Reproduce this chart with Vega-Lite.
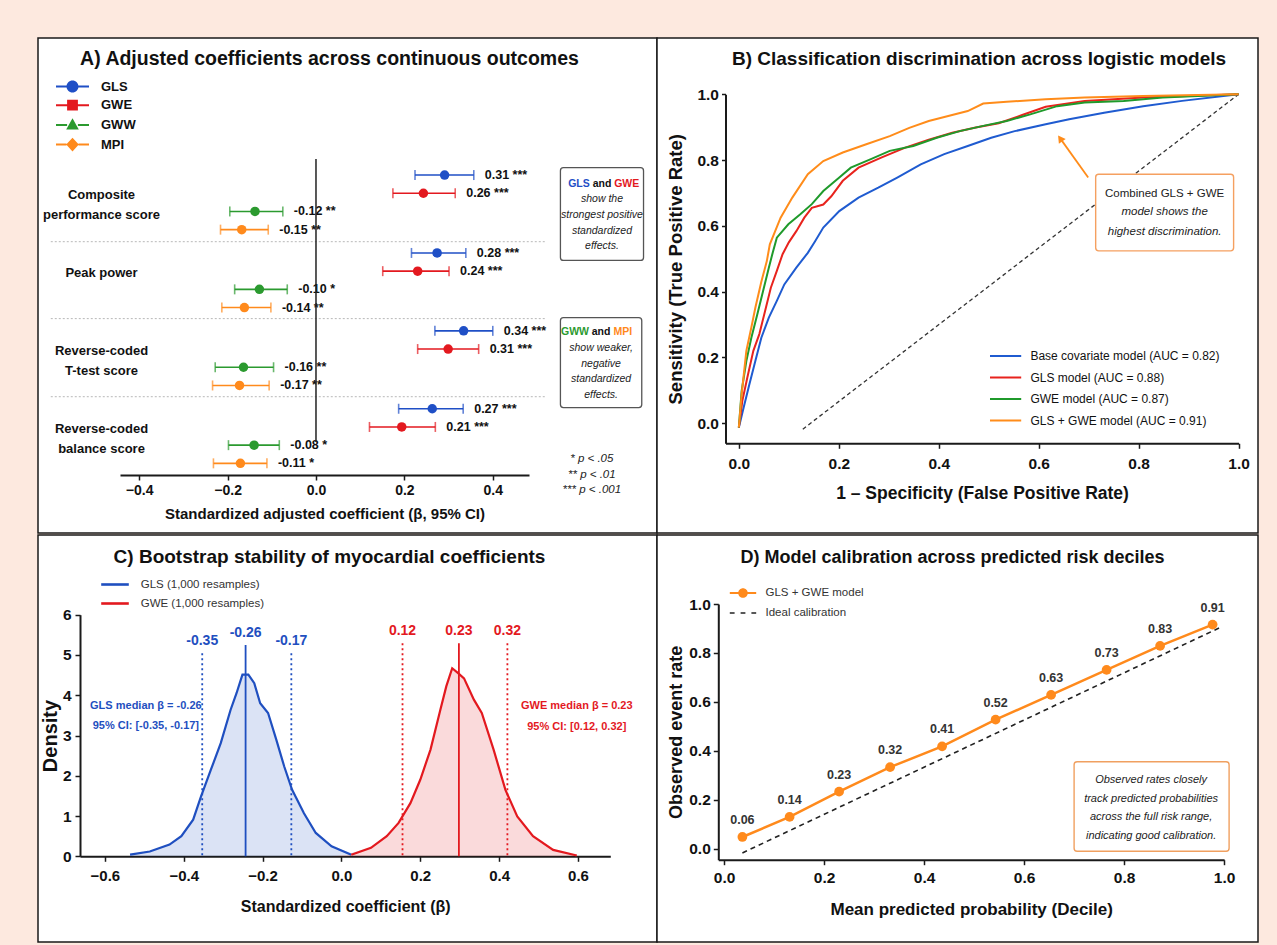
{
  "$schema": "https://vega.github.io/schema/vega-lite/v6.json",
  "background": "#fde9df",
  "padding": {"left": 37, "top": 37, "right": 20, "bottom": 6},
  "config": {
    "font": "Liberation Sans, Arial, sans-serif",
    "view": {"stroke": "#1a1a1a", "strokeWidth": 1.5, "fill": "white"},
    "concat": {"spacing": 0},
    "axis": {"grid": false, "domainColor": "#1a1a1a", "domainWidth": 2, "tickColor": "#1a1a1a", "tickWidth": 1.5, "tickSize": 5,
      "labelFont": "Liberation Sans, Arial, sans-serif", "labelFontWeight": "bold", "labelColor": "#111", "labelFlush": false, "labelOverlap": false,
      "titleFont": "Liberation Sans, Arial, sans-serif", "titleFontWeight": "bold", "titleColor": "#111"},
    "title": {"font": "Liberation Sans, Arial, sans-serif", "fontWeight": "bold", "fontSize": 19, "color": "#111", "anchor": "middle", "frame": "group"},
    "legend": {"labelFont": "Liberation Sans, Arial, sans-serif", "padding": 0, "title": null, "labelLimit": 400},
    "text": {"font": "Liberation Sans, Arial, sans-serif"}
  },
  "datasets": {
    "forest": [
      {"outcome": "Composite performance score", "model": "GLS", "beta": 0.291, "lo": 0.224, "hi": 0.357, "label": "0.31 ***"},
      {"outcome": "Composite performance score", "model": "GWE", "beta": 0.243, "lo": 0.174, "hi": 0.315, "label": "0.26 ***"},
      {"outcome": "Composite performance score", "model": "GWW", "beta": -0.138, "lo": -0.195, "hi": -0.075, "label": "-0.12 **"},
      {"outcome": "Composite performance score", "model": "MPI", "beta": -0.168, "lo": -0.216, "hi": -0.108, "label": "-0.15 **"},
      {"outcome": "Peak power", "model": "GLS", "beta": 0.274, "lo": 0.216, "hi": 0.339, "label": "0.28 ***"},
      {"outcome": "Peak power", "model": "GWE", "beta": 0.230, "lo": 0.151, "hi": 0.301, "label": "0.24 ***"},
      {"outcome": "Peak power", "model": "GWW", "beta": -0.128, "lo": -0.184, "hi": -0.065, "label": "-0.10 *"},
      {"outcome": "Peak power", "model": "MPI", "beta": -0.162, "lo": -0.213, "hi": -0.102, "label": "-0.14 **"},
      {"outcome": "Reverse-coded T-test score", "model": "GLS", "beta": 0.334, "lo": 0.269, "hi": 0.400, "label": "0.34 ***"},
      {"outcome": "Reverse-coded T-test score", "model": "GWE", "beta": 0.299, "lo": 0.230, "hi": 0.368, "label": "0.31 ***"},
      {"outcome": "Reverse-coded T-test score", "model": "GWW", "beta": -0.164, "lo": -0.228, "hi": -0.096, "label": "-0.16 **"},
      {"outcome": "Reverse-coded T-test score", "model": "MPI", "beta": -0.173, "lo": -0.234, "hi": -0.106, "label": "-0.17 **"},
      {"outcome": "Reverse-coded balance score", "model": "GLS", "beta": 0.263, "lo": 0.187, "hi": 0.333, "label": "0.27 ***"},
      {"outcome": "Reverse-coded balance score", "model": "GWE", "beta": 0.194, "lo": 0.121, "hi": 0.270, "label": "0.21 ***"},
      {"outcome": "Reverse-coded balance score", "model": "GWW", "beta": -0.140, "lo": -0.198, "hi": -0.083, "label": "-0.08 *"},
      {"outcome": "Reverse-coded balance score", "model": "MPI", "beta": -0.171, "lo": -0.232, "hi": -0.111, "label": "-0.11 *"}
    ],
    "aSep": [
      {"beta": -0.6, "beta2": 0.52, "ay": 4.02},
      {"beta": -0.6, "beta2": 0.52, "ay": 7.97},
      {"beta": -0.6, "beta2": 0.52, "ay": 11.98}
    ],
    "aZero": [{"beta": 0, "ay": -0.23, "ay2": 14.3}],
    "aBox": [
      {"beta": 0.553, "beta2": 0.741, "ay": 0.22, "ay2": 4.98},
      {"beta": 0.553, "beta2": 0.737, "ay": 7.92, "ay2": 12.54}
    ],
    "aWords": [
      {"t": "GLS", "model": "GLS", "beta": 0.595, "ay": 1.04},
      {"t": "GWE", "model": "GWE", "beta": 0.703, "ay": 1.04},
      {"t": "GWW", "model": "GWW", "beta": 0.586, "ay": 8.66},
      {"t": "MPI", "model": "MPI", "beta": 0.694, "ay": 8.66}
    ],
    "aAnd": [
      {"t": "and", "beta": 0.647, "ay": 1.04},
      {"t": "and", "beta": 0.645, "ay": 8.66}
    ],
    "aItal": [
      {"t": "show the", "beta": 0.647, "ay": 1.84},
      {"t": "strongest positive", "beta": 0.647, "ay": 2.67},
      {"t": "standardized", "beta": 0.647, "ay": 3.47},
      {"t": "effects.", "beta": 0.647, "ay": 4.24},
      {"t": "show weaker,", "beta": 0.645, "ay": 9.46},
      {"t": "negative", "beta": 0.645, "ay": 10.32},
      {"t": "standardized", "beta": 0.645, "ay": 11.09},
      {"t": "effects.", "beta": 0.645, "ay": 11.89}
    ],
    "aP": [
      {"t": "* p < .05", "beta": 0.624, "ay": 15.2},
      {"t": "** p < .01", "beta": 0.624, "ay": 16.0},
      {"t": "*** p < .001", "beta": 0.624, "ay": 16.79}
    ],
    "roc": [
      {"model": "Base covariate model (AUC = 0.82)", "fpr": 0, "tpr": -0.013},
      {"model": "Base covariate model (AUC = 0.82)", "fpr": 0.0095, "tpr": 0.047},
      {"model": "Base covariate model (AUC = 0.82)", "fpr": 0.021, "tpr": 0.118},
      {"model": "Base covariate model (AUC = 0.82)", "fpr": 0.033, "tpr": 0.189},
      {"model": "Base covariate model (AUC = 0.82)", "fpr": 0.045, "tpr": 0.26},
      {"model": "Base covariate model (AUC = 0.82)", "fpr": 0.06, "tpr": 0.321},
      {"model": "Base covariate model (AUC = 0.82)", "fpr": 0.076, "tpr": 0.372},
      {"model": "Base covariate model (AUC = 0.82)", "fpr": 0.091, "tpr": 0.422},
      {"model": "Base covariate model (AUC = 0.82)", "fpr": 0.115, "tpr": 0.473},
      {"model": "Base covariate model (AUC = 0.82)", "fpr": 0.138, "tpr": 0.518},
      {"model": "Base covariate model (AUC = 0.82)", "fpr": 0.152, "tpr": 0.552},
      {"model": "Base covariate model (AUC = 0.82)", "fpr": 0.169, "tpr": 0.595},
      {"model": "Base covariate model (AUC = 0.82)", "fpr": 0.201, "tpr": 0.645},
      {"model": "Base covariate model (AUC = 0.82)", "fpr": 0.2395, "tpr": 0.686},
      {"model": "Base covariate model (AUC = 0.82)", "fpr": 0.279, "tpr": 0.716},
      {"model": "Base covariate model (AUC = 0.82)", "fpr": 0.317, "tpr": 0.747},
      {"model": "Base covariate model (AUC = 0.82)", "fpr": 0.364, "tpr": 0.787},
      {"model": "Base covariate model (AUC = 0.82)", "fpr": 0.411, "tpr": 0.818},
      {"model": "Base covariate model (AUC = 0.82)", "fpr": 0.458, "tpr": 0.843},
      {"model": "Base covariate model (AUC = 0.82)", "fpr": 0.505, "tpr": 0.868},
      {"model": "Base covariate model (AUC = 0.82)", "fpr": 0.552, "tpr": 0.888},
      {"model": "Base covariate model (AUC = 0.82)", "fpr": 0.614, "tpr": 0.909},
      {"model": "Base covariate model (AUC = 0.82)", "fpr": 0.661, "tpr": 0.924},
      {"model": "Base covariate model (AUC = 0.82)", "fpr": 0.731, "tpr": 0.944},
      {"model": "Base covariate model (AUC = 0.82)", "fpr": 0.809, "tpr": 0.964},
      {"model": "Base covariate model (AUC = 0.82)", "fpr": 0.887, "tpr": 0.98},
      {"model": "Base covariate model (AUC = 0.82)", "fpr": 1.0, "tpr": 1.0},
      {"model": "GLS model (AUC = 0.88)", "fpr": 0, "tpr": -0.013},
      {"model": "GLS model (AUC = 0.88)", "fpr": 0.007, "tpr": 0.068},
      {"model": "GLS model (AUC = 0.88)", "fpr": 0.017, "tpr": 0.139},
      {"model": "GLS model (AUC = 0.88)", "fpr": 0.029, "tpr": 0.22},
      {"model": "GLS model (AUC = 0.88)", "fpr": 0.041, "tpr": 0.271},
      {"model": "GLS model (AUC = 0.88)", "fpr": 0.0525, "tpr": 0.341},
      {"model": "GLS model (AUC = 0.88)", "fpr": 0.064, "tpr": 0.412},
      {"model": "GLS model (AUC = 0.88)", "fpr": 0.076, "tpr": 0.463},
      {"model": "GLS model (AUC = 0.88)", "fpr": 0.0875, "tpr": 0.514},
      {"model": "GLS model (AUC = 0.88)", "fpr": 0.1, "tpr": 0.55},
      {"model": "GLS model (AUC = 0.88)", "fpr": 0.115, "tpr": 0.584},
      {"model": "GLS model (AUC = 0.88)", "fpr": 0.131, "tpr": 0.625},
      {"model": "GLS model (AUC = 0.88)", "fpr": 0.146, "tpr": 0.655},
      {"model": "GLS model (AUC = 0.88)", "fpr": 0.169, "tpr": 0.665},
      {"model": "GLS model (AUC = 0.88)", "fpr": 0.185, "tpr": 0.69},
      {"model": "GLS model (AUC = 0.88)", "fpr": 0.208, "tpr": 0.737},
      {"model": "GLS model (AUC = 0.88)", "fpr": 0.2395, "tpr": 0.777},
      {"model": "GLS model (AUC = 0.88)", "fpr": 0.286, "tpr": 0.808},
      {"model": "GLS model (AUC = 0.88)", "fpr": 0.333, "tpr": 0.838},
      {"model": "GLS model (AUC = 0.88)", "fpr": 0.38, "tpr": 0.862},
      {"model": "GLS model (AUC = 0.88)", "fpr": 0.427, "tpr": 0.883},
      {"model": "GLS model (AUC = 0.88)", "fpr": 0.474, "tpr": 0.899},
      {"model": "GLS model (AUC = 0.88)", "fpr": 0.52, "tpr": 0.912},
      {"model": "GLS model (AUC = 0.88)", "fpr": 0.567, "tpr": 0.937},
      {"model": "GLS model (AUC = 0.88)", "fpr": 0.614, "tpr": 0.962},
      {"model": "GLS model (AUC = 0.88)", "fpr": 0.692, "tpr": 0.98},
      {"model": "GLS model (AUC = 0.88)", "fpr": 0.809, "tpr": 0.99},
      {"model": "GLS model (AUC = 0.88)", "fpr": 1.0, "tpr": 1.0},
      {"model": "GWE model (AUC = 0.87)", "fpr": 0, "tpr": -0.013},
      {"model": "GWE model (AUC = 0.87)", "fpr": 0.0056, "tpr": 0.098},
      {"model": "GWE model (AUC = 0.87)", "fpr": 0.015, "tpr": 0.189},
      {"model": "GWE model (AUC = 0.87)", "fpr": 0.025, "tpr": 0.26},
      {"model": "GWE model (AUC = 0.87)", "fpr": 0.037, "tpr": 0.331},
      {"model": "GWE model (AUC = 0.87)", "fpr": 0.0485, "tpr": 0.402},
      {"model": "GWE model (AUC = 0.87)", "fpr": 0.06, "tpr": 0.473},
      {"model": "GWE model (AUC = 0.87)", "fpr": 0.068, "tpr": 0.52},
      {"model": "GWE model (AUC = 0.87)", "fpr": 0.076, "tpr": 0.564},
      {"model": "GWE model (AUC = 0.87)", "fpr": 0.099, "tpr": 0.605},
      {"model": "GWE model (AUC = 0.87)", "fpr": 0.123, "tpr": 0.635},
      {"model": "GWE model (AUC = 0.87)", "fpr": 0.146, "tpr": 0.666},
      {"model": "GWE model (AUC = 0.87)", "fpr": 0.169, "tpr": 0.706},
      {"model": "GWE model (AUC = 0.87)", "fpr": 0.201, "tpr": 0.747},
      {"model": "GWE model (AUC = 0.87)", "fpr": 0.224, "tpr": 0.777},
      {"model": "GWE model (AUC = 0.87)", "fpr": 0.263, "tpr": 0.802},
      {"model": "GWE model (AUC = 0.87)", "fpr": 0.302, "tpr": 0.828},
      {"model": "GWE model (AUC = 0.87)", "fpr": 0.349, "tpr": 0.843},
      {"model": "GWE model (AUC = 0.87)", "fpr": 0.396, "tpr": 0.868},
      {"model": "GWE model (AUC = 0.87)", "fpr": 0.442, "tpr": 0.888},
      {"model": "GWE model (AUC = 0.87)", "fpr": 0.489, "tpr": 0.904},
      {"model": "GWE model (AUC = 0.87)", "fpr": 0.536, "tpr": 0.919},
      {"model": "GWE model (AUC = 0.87)", "fpr": 0.583, "tpr": 0.939},
      {"model": "GWE model (AUC = 0.87)", "fpr": 0.637, "tpr": 0.964},
      {"model": "GWE model (AUC = 0.87)", "fpr": 0.692, "tpr": 0.975},
      {"model": "GWE model (AUC = 0.87)", "fpr": 0.77, "tpr": 0.98},
      {"model": "GWE model (AUC = 0.87)", "fpr": 0.848, "tpr": 0.99},
      {"model": "GWE model (AUC = 0.87)", "fpr": 1.0, "tpr": 1.0},
      {"model": "GLS + GWE model (AUC = 0.91)", "fpr": 0, "tpr": -0.013},
      {"model": "GLS + GWE model (AUC = 0.91)", "fpr": 0.0056, "tpr": 0.088},
      {"model": "GLS + GWE model (AUC = 0.91)", "fpr": 0.015, "tpr": 0.22},
      {"model": "GLS + GWE model (AUC = 0.91)", "fpr": 0.025, "tpr": 0.291},
      {"model": "GLS + GWE model (AUC = 0.91)", "fpr": 0.033, "tpr": 0.351},
      {"model": "GLS + GWE model (AUC = 0.91)", "fpr": 0.045, "tpr": 0.43},
      {"model": "GLS + GWE model (AUC = 0.91)", "fpr": 0.056, "tpr": 0.493},
      {"model": "GLS + GWE model (AUC = 0.91)", "fpr": 0.062, "tpr": 0.544},
      {"model": "GLS + GWE model (AUC = 0.91)", "fpr": 0.0836, "tpr": 0.625},
      {"model": "GLS + GWE model (AUC = 0.91)", "fpr": 0.107, "tpr": 0.686},
      {"model": "GLS + GWE model (AUC = 0.91)", "fpr": 0.138, "tpr": 0.757},
      {"model": "GLS + GWE model (AUC = 0.91)", "fpr": 0.169, "tpr": 0.797},
      {"model": "GLS + GWE model (AUC = 0.91)", "fpr": 0.208, "tpr": 0.823},
      {"model": "GLS + GWE model (AUC = 0.91)", "fpr": 0.255, "tpr": 0.848},
      {"model": "GLS + GWE model (AUC = 0.91)", "fpr": 0.302, "tpr": 0.873},
      {"model": "GLS + GWE model (AUC = 0.91)", "fpr": 0.341, "tpr": 0.898},
      {"model": "GLS + GWE model (AUC = 0.91)", "fpr": 0.38, "tpr": 0.919},
      {"model": "GLS + GWE model (AUC = 0.91)", "fpr": 0.419, "tpr": 0.934},
      {"model": "GLS + GWE model (AUC = 0.91)", "fpr": 0.458, "tpr": 0.949},
      {"model": "GLS + GWE model (AUC = 0.91)", "fpr": 0.489, "tpr": 0.972},
      {"model": "GLS + GWE model (AUC = 0.91)", "fpr": 0.536, "tpr": 0.977},
      {"model": "GLS + GWE model (AUC = 0.91)", "fpr": 0.614, "tpr": 0.985},
      {"model": "GLS + GWE model (AUC = 0.91)", "fpr": 0.692, "tpr": 0.99},
      {"model": "GLS + GWE model (AUC = 0.91)", "fpr": 0.809, "tpr": 0.995},
      {"model": "GLS + GWE model (AUC = 0.91)", "fpr": 1.0, "tpr": 1.0}
    ],
    "diag": [{"fpr": 0.128, "tpr": -0.018}, {"fpr": 1.0, "tpr": 1.0}],
    "bArrow": [{"fpr": 0.699, "tpr": 0.747, "fpr2": 0.643, "tpr2": 0.866}],
    "bHead": [{"fpr": 0.643, "tpr": 0.866}],
    "bBox": [{"fpr": 0.714, "fpr2": 0.99, "tpr": 0.524, "tpr2": 0.757}],
    "bNorm": [{"t": "Combined GLS + GWE", "fpr": 0.852, "tpr": 0.696}],
    "bItal": [
      {"t": "model shows the", "fpr": 0.852, "tpr": 0.643},
      {"t": "highest discrimination.", "fpr": 0.852, "tpr": 0.582}
    ],
    "dens": [
      {"series": "GLS (1,000 resamples)", "beta": -0.536, "density": 0.04},
      {"series": "GLS (1,000 resamples)", "beta": -0.486, "density": 0.12},
      {"series": "GLS (1,000 resamples)", "beta": -0.436, "density": 0.29},
      {"series": "GLS (1,000 resamples)", "beta": -0.406, "density": 0.5},
      {"series": "GLS (1,000 resamples)", "beta": -0.376, "density": 0.91},
      {"series": "GLS (1,000 resamples)", "beta": -0.356, "density": 1.49},
      {"series": "GLS (1,000 resamples)", "beta": -0.331, "density": 2.15},
      {"series": "GLS (1,000 resamples)", "beta": -0.306, "density": 2.81},
      {"series": "GLS (1,000 resamples)", "beta": -0.281, "density": 3.64},
      {"series": "GLS (1,000 resamples)", "beta": -0.266, "density": 4.05},
      {"series": "GLS (1,000 resamples)", "beta": -0.251, "density": 4.51},
      {"series": "GLS (1,000 resamples)", "beta": -0.236, "density": 4.51},
      {"series": "GLS (1,000 resamples)", "beta": -0.221, "density": 4.3},
      {"series": "GLS (1,000 resamples)", "beta": -0.206, "density": 3.8},
      {"series": "GLS (1,000 resamples)", "beta": -0.186, "density": 3.56},
      {"series": "GLS (1,000 resamples)", "beta": -0.165, "density": 2.89},
      {"series": "GLS (1,000 resamples)", "beta": -0.145, "density": 2.23},
      {"series": "GLS (1,000 resamples)", "beta": -0.125, "density": 1.65},
      {"series": "GLS (1,000 resamples)", "beta": -0.095, "density": 1.07},
      {"series": "GLS (1,000 resamples)", "beta": -0.065, "density": 0.58},
      {"series": "GLS (1,000 resamples)", "beta": -0.025, "density": 0.25},
      {"series": "GLS (1,000 resamples)", "beta": 0.025, "density": 0.04},
      {"series": "GWE (1,000 resamples)", "beta": 0.025, "density": 0.04},
      {"series": "GWE (1,000 resamples)", "beta": 0.075, "density": 0.21},
      {"series": "GWE (1,000 resamples)", "beta": 0.115, "density": 0.5},
      {"series": "GWE (1,000 resamples)", "beta": 0.145, "density": 0.83},
      {"series": "GWE (1,000 resamples)", "beta": 0.175, "density": 1.32},
      {"series": "GWE (1,000 resamples)", "beta": 0.2, "density": 1.9},
      {"series": "GWE (1,000 resamples)", "beta": 0.226, "density": 2.65},
      {"series": "GWE (1,000 resamples)", "beta": 0.251, "density": 3.64},
      {"series": "GWE (1,000 resamples)", "beta": 0.266, "density": 4.22},
      {"series": "GWE (1,000 resamples)", "beta": 0.281, "density": 4.67},
      {"series": "GWE (1,000 resamples)", "beta": 0.296, "density": 4.55},
      {"series": "GWE (1,000 resamples)", "beta": 0.311, "density": 4.42},
      {"series": "GWE (1,000 resamples)", "beta": 0.336, "density": 3.89},
      {"series": "GWE (1,000 resamples)", "beta": 0.356, "density": 3.56},
      {"series": "GWE (1,000 resamples)", "beta": 0.386, "density": 2.65},
      {"series": "GWE (1,000 resamples)", "beta": 0.416, "density": 1.65},
      {"series": "GWE (1,000 resamples)", "beta": 0.446, "density": 0.99},
      {"series": "GWE (1,000 resamples)", "beta": 0.486, "density": 0.5},
      {"series": "GWE (1,000 resamples)", "beta": 0.537, "density": 0.16},
      {"series": "GWE (1,000 resamples)", "beta": 0.597, "density": 0.02}
    ],
    "cLines": [
      {"series": "GLS (1,000 resamples)", "kind": "ci", "beta": -0.353, "top": 5.04, "label": "-0.35"},
      {"series": "GLS (1,000 resamples)", "kind": "median", "beta": -0.243, "top": 5.25, "label": "-0.26"},
      {"series": "GLS (1,000 resamples)", "kind": "ci", "beta": -0.127, "top": 5.04, "label": "-0.17"},
      {"series": "GWE (1,000 resamples)", "kind": "ci", "beta": 0.155, "top": 5.29, "label": "0.12"},
      {"series": "GWE (1,000 resamples)", "kind": "median", "beta": 0.298, "top": 5.29, "label": "0.23"},
      {"series": "GWE (1,000 resamples)", "kind": "ci", "beta": 0.421, "top": 5.29, "label": "0.32"}
    ],
    "cNotes": [
      {"series": "GLS (1,000 resamples)", "t": "GLS median β = -0.26", "beta": -0.496, "density": 3.74},
      {"series": "GLS (1,000 resamples)", "t": "95% CI: [-0.35, -0.17]", "beta": -0.496, "density": 3.24},
      {"series": "GWE (1,000 resamples)", "t": "GWE median β = 0.23", "beta": 0.597, "density": 3.74},
      {"series": "GWE (1,000 resamples)", "t": "95% CI: [0.12, 0.32]", "beta": 0.597, "density": 3.22}
    ],
    "calib": [
      {"pred": 0.0366, "obs": 0.049, "label": "0.06"},
      {"pred": 0.131, "obs": 0.131, "label": "0.14"},
      {"pred": 0.23, "obs": 0.234, "label": "0.23"},
      {"pred": 0.332, "obs": 0.334, "label": "0.32"},
      {"pred": 0.436, "obs": 0.419, "label": "0.41"},
      {"pred": 0.543, "obs": 0.528, "label": "0.52"},
      {"pred": 0.654, "obs": 0.629, "label": "0.63"},
      {"pred": 0.765, "obs": 0.731, "label": "0.73"},
      {"pred": 0.872, "obs": 0.829, "label": "0.83"},
      {"pred": 0.977, "obs": 0.916, "label": "0.91"}
    ],
    "ideal": [{"pred": 0.0366, "obs": -0.016}, {"pred": 0.992, "obs": 0.904}],
    "dBox": [{"pred": 0.7, "pred2": 1.01, "obs": 0.356, "obs2": -0.009}],
    "dText": [
      {"t": "Observed rates closely", "pred": 0.854, "obs": 0.283},
      {"t": "track predicted probabilities", "pred": 0.854, "obs": 0.205},
      {"t": "across the full risk range,", "pred": 0.854, "obs": 0.129},
      {"t": "indicating good calibration.", "pred": 0.854, "obs": 0.052}
    ]
  },
  "resolve": {"scale": {"color": "independent", "fill": "independent", "stroke": "independent", "shape": "independent", "strokeDash": "independent"}, "legend": {"color": "independent", "shape": "independent"}},
  "vconcat": [
    {
      "bounds": "flush",
      "resolve": {"scale": {"color": "independent", "fill": "independent", "stroke": "independent", "shape": "independent", "strokeDash": "independent"}, "legend": {"color": "independent", "shape": "independent"}},
      "hconcat": [
        {
          "width": 619,
          "height": 495,
          "title": {"text": "A) Adjusted coefficients across continuous outcomes", "dx": -18, "offset": -31, "fontSize": 19.5},
          "resolve": {"scale": {"y": "independent"}},
          "layer": [
            {
              "data": {"name": "forest"},
              "encoding": {
                "y": {"field": "outcome", "type": "nominal",
                  "scale": {"domain": ["Composite performance score", "Peak power", "Reverse-coded T-test score", "Reverse-coded balance score"], "range": [125.4, 437], "paddingInner": 0, "paddingOuter": 0},
                  "axis": {"title": null, "domain": false, "ticks": false, "tickSize": 0, "labelPadding": 0, "offset": -63, "labelAlign": "center", "labelFontSize": 13, "labelLineHeight": 20, "labelOffset": -7, "labelLimit": 300,
                    "labelExpr": "datum.value == 'Composite performance score' ? ['Composite', 'performance score'] : datum.value == 'Reverse-coded T-test score' ? ['Reverse-coded', 'T-test score'] : datum.value == 'Reverse-coded balance score' ? ['Reverse-coded', 'balance score'] : datum.value"}},
                "yOffset": {"field": "model", "type": "nominal", "scale": {"domain": ["GLS", "GWE", "GWW", "MPI"], "paddingInner": 0, "paddingOuter": 0.14}}
              },
              "layer": [
                {"mark": {"type": "rule", "strokeWidth": 1.6},
                 "encoding": {"x": {"field": "lo", "type": "quantitative", "scale": {"domain": [-0.4434, 0.4819], "range": [82, 491]},
                   "axis": {"title": "Standardized adjusted coefficient (β, 95% CI)", "values": [-0.4, -0.2, 0, 0.2, 0.4], "format": ".1f", "offset": -58, "labelPadding": 3, "labelFontSize": 14, "titleFontSize": 15, "titlePadding": 9}},
                   "x2": {"field": "hi"},
                   "stroke": {"field": "model", "type": "nominal", "scale": {"domain": ["MPI", "GWW", "GWE", "GLS"], "range": ["#ff8a1c", "#2b9a2f", "#e3191f", "#1f4fc6"]}, "legend": null}}},
                {"mark": {"type": "tick", "thickness": 1.6, "size": 10, "orient": "vertical"},
                 "encoding": {"x": {"field": "lo", "type": "quantitative", "scale": {"domain": [-0.4434, 0.4819], "range": [82, 491]}},
                   "fill": {"field": "model", "type": "nominal", "scale": {"domain": ["MPI", "GWW", "GWE", "GLS"], "range": ["#ff8a1c", "#2b9a2f", "#e3191f", "#1f4fc6"]}, "legend": null}}},
                {"mark": {"type": "tick", "thickness": 1.6, "size": 10, "orient": "vertical"},
                 "encoding": {"x": {"field": "hi", "type": "quantitative", "scale": {"domain": [-0.4434, 0.4819], "range": [82, 491]}},
                   "fill": {"field": "model", "type": "nominal", "legend": null}}},
                {"mark": {"type": "circle", "size": 90, "opacity": 1},
                 "encoding": {"x": {"field": "beta", "type": "quantitative", "scale": {"domain": [-0.4434, 0.4819], "range": [82, 491]}},
                   "fill": {"field": "model", "type": "nominal", "legend": null}}},
                {"mark": {"type": "text", "align": "left", "baseline": "middle", "dx": 11, "fontSize": 12.5, "fontWeight": "bold", "color": "#111"},
                 "encoding": {"x": {"field": "hi", "type": "quantitative", "scale": {"domain": [-0.4434, 0.4819], "range": [82, 491]}}, "text": {"field": "label"}}},
                {"transform": [{"filter": "false"}],
                 "mark": {"type": "point", "filled": true, "opacity": 1, "size": 144},
                 "encoding": {
                   "x": {"field": "beta", "type": "quantitative", "scale": {"domain": [-0.4434, 0.4819], "range": [82, 491]}},
                   "color": {"field": "model", "type": "nominal", "scale": {"domain": ["GLS", "GWE", "GWW", "MPI"], "range": ["#1f4fc6", "#e3191f", "#2b9a2f", "#ff8a1c"]},
                     "legend": {"orient": "none", "legendX": 28, "legendY": 42, "symbolSize": 144, "labelFontSize": 13, "labelFontWeight": "bold", "labelColor": "#111", "labelOffset": 22, "rowPadding": 4.7, "symbolStrokeWidth": 0}},
                   "shape": {"field": "model", "type": "nominal",
                     "scale": {"domain": ["GLS", "GWE", "GWW", "MPI"], "range": [
                       "M-2.75,-0.17H-0.95V0.17H-2.75Z M0.95,-0.17H2.75V0.17H0.95Z M-1,0A1,1 0 1,1 1,0A1,1 0 1,1 -1,0Z",
                       "M-2.75,-0.17H-0.9V0.17H-2.75Z M0.9,-0.17H2.75V0.17H0.9Z M-0.9,-0.9H0.9V0.9H-0.9Z",
                       "M-2.75,-0.17H-0.9V0.17H-2.75Z M0.9,-0.17H2.75V0.17H0.9Z M0,-1.1L1.05,0.75H-1.05Z",
                       "M-2.75,-0.17H-1V0.17H-2.75Z M1,-0.17H2.75V0.17H1Z M0,-1.15L1.05,0L0,1.15L-1.05,0Z"]},
                     "legend": {"orient": "none", "legendX": 28, "legendY": 42, "symbolSize": 144, "labelFontSize": 13, "labelFontWeight": "bold", "labelColor": "#111", "labelOffset": 22, "rowPadding": 4.7, "symbolStrokeWidth": 0}}
                 }}
              ]
            },
            {
              "encoding": {
                "y": {"field": "ay", "type": "quantitative", "scale": {"domain": [0, 16], "range": [125.4, 437]}, "axis": null},
                "x": {"field": "beta", "type": "quantitative", "scale": {"domain": [-0.4434, 0.4819], "range": [82, 491]}}
              },
              "layer": [
                {"data": {"name": "aSep"}, "mark": {"type": "rule", "strokeDash": [2, 2], "color": "#b8b8b8", "strokeWidth": 1},
                 "encoding": {"x2": {"field": "beta2"}}},
                {"data": {"name": "aZero"}, "mark": {"type": "rule", "color": "#222", "strokeWidth": 1.5},
                 "encoding": {"y2": {"field": "ay2"}}},
                {"data": {"name": "aBox"}, "mark": {"type": "rect", "fill": "white", "stroke": "#555", "strokeWidth": 1.3, "cornerRadius": 3},
                 "encoding": {"x2": {"field": "beta2"}, "y2": {"field": "ay2"}}},
                {"data": {"name": "aWords"}, "mark": {"type": "text", "fontWeight": "bold", "fontSize": 10.5, "baseline": "middle"},
                 "encoding": {"text": {"field": "t"}, "fill": {"field": "model", "type": "nominal", "legend": null}}},
                {"data": {"name": "aAnd"}, "mark": {"type": "text", "fontWeight": "bold", "fontSize": 10.5, "baseline": "middle", "color": "#111"},
                 "encoding": {"text": {"field": "t"}}},
                {"data": {"name": "aItal"}, "mark": {"type": "text", "fontStyle": "italic", "fontSize": 10.5, "baseline": "middle", "color": "#222"},
                 "encoding": {"text": {"field": "t"}}},
                {"data": {"name": "aP"}, "mark": {"type": "text", "fontStyle": "italic", "fontSize": 11.5, "baseline": "middle", "color": "#222"},
                 "encoding": {"text": {"field": "t"}}}
              ]
            }
          ]
        },
        {
          "width": 601,
          "height": 495,
          "title": {"text": "B) Classification discrimination across logistic models", "dx": 21.5, "offset": -31, "fontSize": 19},
          "encoding": {
            "x": {"field": "fpr", "type": "quantitative", "scale": {"domain": [-0.0267, 1.0], "range": [68.5, 581.6]},
              "axis": {"title": "1 – Specificity (False Positive Rate)", "values": [0, 0.2, 0.4, 0.6, 0.8, 1], "format": ".1f", "offset": -89.7, "labelPadding": 8, "labelFontSize": 15.5, "titleFontSize": 17.5, "titlePadding": 13}},
            "y": {"field": "tpr", "type": "quantitative", "scale": {"domain": [-0.061, 1.0], "range": [405.3, 56.3]},
              "axis": {"title": "Sensitivity (True Positive Rate)", "values": [0, 0.2, 0.4, 0.6, 0.8, 1], "format": ".1f", "offset": -68.5, "tickSize": 4, "labelPadding": 3, "labelFontSize": 15.5, "titleFontSize": 18.5, "titlePadding": 11.5}}
          },
          "layer": [
            {"data": {"name": "diag"}, "mark": {"type": "line", "strokeDash": [4, 3], "color": "#333", "strokeWidth": 1.3}},
            {"data": {"name": "roc"}, "mark": {"type": "line", "strokeWidth": 2},
             "encoding": {
               "color": {"field": "model", "type": "nominal",
                 "scale": {"domain": ["Base covariate model (AUC = 0.82)", "GLS model (AUC = 0.88)", "GWE model (AUC = 0.87)", "GLS + GWE model (AUC = 0.91)"], "range": ["#1f5bd0", "#e8231d", "#1f9a2b", "#ff8c1a"]},
                 "legend": {"orient": "none", "legendX": 341.6, "legendY": 311, "symbolType": "M-2.6,0H2.6", "symbolSize": 144, "symbolStrokeWidth": 2, "labelFontSize": 12, "labelColor": "#111", "labelOffset": 17.8, "rowPadding": 8.5, "labelLimit": 400}}
             }},
            {"data": {"name": "bArrow"}, "mark": {"type": "rule", "color": "#ff8c1a", "strokeWidth": 1.8},
             "encoding": {"x2": {"field": "fpr2"}, "y2": {"field": "tpr2"}}},
            {"data": {"name": "bHead"}, "mark": {"type": "point", "shape": "triangle-up", "filled": true, "opacity": 1, "size": 70, "color": "#ff8c1a", "angle": 324.5}},
            {"data": {"name": "bBox"}, "mark": {"type": "rect", "fill": "white", "stroke": "#f5a060", "strokeWidth": 1.4, "cornerRadius": 3},
             "encoding": {"x2": {"field": "fpr2"}, "y2": {"field": "tpr2"}}},
            {"data": {"name": "bNorm"}, "mark": {"type": "text", "fontSize": 11.5, "color": "#222", "baseline": "middle"},
             "encoding": {"text": {"field": "t"}}},
            {"data": {"name": "bItal"}, "mark": {"type": "text", "fontSize": 11.5, "fontStyle": "italic", "color": "#222", "baseline": "middle"},
             "encoding": {"text": {"field": "t"}}}
          ]
        }
      ]
    },
    {
      "bounds": "flush",
      "resolve": {"scale": {"color": "independent", "fill": "independent", "stroke": "independent", "shape": "independent", "strokeDash": "independent"}, "legend": {"color": "independent", "shape": "independent"}},
      "hconcat": [
        {
          "width": 619,
          "height": 407,
          "title": {"text": "C) Bootstrap stability of myocardial coefficients", "dx": -18, "offset": -32, "fontSize": 19},
          "encoding": {
            "x": {"field": "beta", "type": "quantitative", "scale": {"domain": [-0.663, 0.682], "range": [42, 572.3]},
              "axis": {"title": "Standardized coefficient (β)", "values": [-0.6, -0.4, -0.2, 0, 0.2, 0.4, 0.6], "format": ".1f", "offset": -85.7, "labelPadding": 7, "labelFontSize": 15, "titleFontSize": 16, "titlePadding": 15}},
            "y": {"field": "density", "type": "quantitative", "scale": {"domain": [0, 6], "range": [321.3, 79.7]},
              "axis": {"title": "Density", "values": [0, 1, 2, 3, 4, 5, 6], "format": "d", "offset": -42, "labelPadding": 4, "labelFontSize": 15.5, "titleFontSize": 20, "titlePadding": 2}}
          },
          "layer": [
            {"data": {"name": "dens"}, "mark": {"type": "area", "fillOpacity": 0.16},
             "encoding": {"fill": {"field": "series", "type": "nominal", "scale": {"domain": ["GWE (1,000 resamples)", "GLS (1,000 resamples)"], "range": ["#e3191f", "#1f4fc0"]}, "legend": null}}},
            {"data": {"name": "dens"}, "mark": {"type": "line", "strokeWidth": 2.2},
             "encoding": {"color": {"field": "series", "type": "nominal", "scale": {"domain": ["GLS (1,000 resamples)", "GWE (1,000 resamples)"], "range": ["#1f4fc0", "#e3191f"]},
               "legend": {"orient": "none", "legendX": 69.5, "legendY": 42, "symbolType": "M-2.3,0H2.3", "symbolSize": 144, "symbolStrokeWidth": 2.6, "labelFontSize": 11.5, "labelColor": "#333", "labelOffset": 18.2, "rowPadding": 6}}}},
            {"data": {"name": "cLines"}, "mark": {"type": "rule", "strokeWidth": 1.8},
             "encoding": {"y": {"field": "top", "type": "quantitative"}, "y2": {"datum": 0},
               "stroke": {"field": "series", "type": "nominal", "scale": {"domain": ["GWE (1,000 resamples)", "GLS (1,000 resamples)"], "range": ["#e3191f", "#1f4fc0"]}, "legend": null},
               "strokeDash": {"field": "kind", "type": "nominal", "scale": {"domain": ["median", "ci"], "range": [[1, 0], [2, 3]]}, "legend": null}}},
            {"data": {"name": "cLines"}, "mark": {"type": "text", "baseline": "bottom", "dy": -5, "fontSize": 14, "fontWeight": "bold"},
             "encoding": {"y": {"field": "top", "type": "quantitative"}, "text": {"field": "label"}, "fill": {"field": "series", "type": "nominal", "legend": null}}},
            {"data": {"name": "cNotes"}, "mark": {"type": "text", "baseline": "middle", "fontSize": 11, "fontWeight": "bold"},
             "encoding": {"text": {"field": "t"}, "fill": {"field": "series", "type": "nominal", "legend": null}}}
          ]
        },
        {
          "width": 601,
          "height": 407,
          "title": {"text": "D) Model calibration across predicted risk deciles", "dx": -5, "offset": -32, "fontSize": 18},
          "encoding": {
            "x": {"field": "pred", "type": "quantitative", "scale": {"domain": [-0.0116, 1.0], "range": [61.3, 567.1]},
              "axis": {"title": "Mean predicted probability (Decile)", "values": [0, 0.2, 0.4, 0.6, 0.8, 1], "format": ".1f", "offset": -82.3, "labelPadding": 6, "labelFontSize": 15.5, "titleFontSize": 17, "titlePadding": 15}},
            "y": {"field": "obs", "type": "quantitative", "scale": {"domain": [-0.0437, 1.0], "range": [324.7, 69]},
              "axis": {"title": "Observed event rate", "values": [0, 0.2, 0.4, 0.6, 0.8, 1], "format": ".1f", "offset": -61.3, "labelPadding": 3, "labelFontSize": 15.5, "titleFontSize": 18, "titlePadding": 3.5}}
          },
          "layer": [
            {"data": {"name": "ideal"}, "mark": {"type": "line", "strokeDash": [5, 4], "color": "#222", "strokeWidth": 1.6}},
            {"data": {"name": "calib"}, "mark": {"type": "line", "color": "#ff8a1c", "strokeWidth": 2.5}},
            {"data": {"name": "calib"}, "mark": {"type": "circle", "color": "#ff8a1c", "size": 95, "opacity": 1}},
            {"data": {"name": "calib"}, "mark": {"type": "text", "dy": -17, "baseline": "middle", "fontSize": 12.5, "fontWeight": "bold", "color": "#333"},
             "encoding": {"text": {"field": "label"}}},
            {"data": {"name": "dBox"}, "mark": {"type": "rect", "fill": "white", "stroke": "#f0a060", "strokeWidth": 1.4, "cornerRadius": 3},
             "encoding": {"x2": {"field": "pred2"}, "y2": {"field": "obs2"}}},
            {"data": {"name": "dText"}, "mark": {"type": "text", "fontStyle": "italic", "fontSize": 11, "color": "#222", "baseline": "middle"},
             "encoding": {"text": {"field": "t"}}},
            {"data": {"name": "calib"}, "transform": [{"filter": "false"}],
             "mark": {"type": "point", "filled": true, "opacity": 1, "size": 144},
             "encoding": {
               "color": {"field": "series", "type": "nominal", "scale": {"domain": ["GLS + GWE model", "Ideal calibration"], "range": ["#ff8a1c", "#222222"]},
                 "legend": {"orient": "none", "legendX": 80, "legendY": 52, "symbolSize": 144, "labelFontSize": 11.5, "labelColor": "#333", "labelOffset": 16.5, "rowPadding": 8, "symbolStrokeWidth": 0}},
               "shape": {"field": "series", "type": "nominal",
                 "scale": {"domain": ["GLS + GWE model", "Ideal calibration"], "range": [
                   "M-2.2,-0.17H-0.7V0.17H-2.2Z M0.7,-0.17H2.2V0.17H0.7Z M-0.8,0A0.8,0.8 0 1,1 0.8,0A0.8,0.8 0 1,1 -0.8,0Z",
                   "M-2.2,-0.12H-1.4V0.12H-2.2Z M-0.4,-0.12H0.4V0.12H-0.4Z M1.4,-0.12H2.2V0.12H1.4Z"]},
                 "legend": {"orient": "none", "legendX": 80, "legendY": 52, "symbolSize": 144, "labelFontSize": 11.5, "labelColor": "#333", "labelOffset": 16.5, "rowPadding": 8, "symbolStrokeWidth": 0}}
             }}
          ]
        }
      ]
    }
  ]
}
